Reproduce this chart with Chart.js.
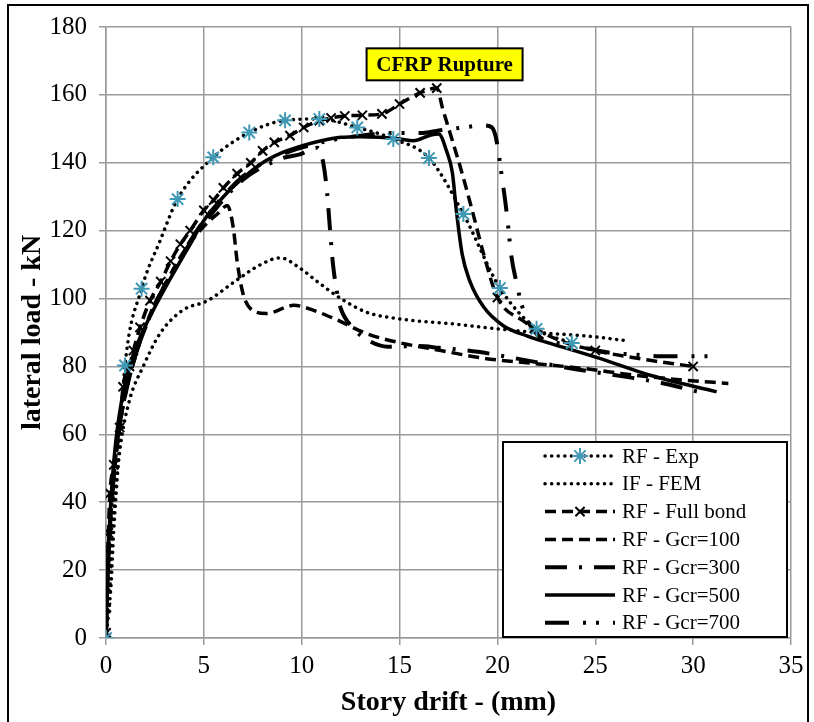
<!DOCTYPE html>
<html>
<head>
<meta charset="utf-8">
<script src="https://cdn.jsdelivr.net/npm/chart.js@4/dist/chart.umd.min.js"></script>
<style>
  html, body { margin: 0; padding: 0; background: #fff; }
  #wrap { width: 814px; height: 722px; }
</style>
</head>
<body>
<div id="wrap"><canvas id="drift" width="814" height="722"></canvas></div>
<script>
// story drift (mm) / lateral load (kN) pairs for each series
const expDrift  = [0, 0.25, 0.4, 0.56, 0.75, 0.97, 1.82, 2.76, 3.66, 5.48, 7.32, 9.15, 10.9, 12.84, 14.68, 16.5, 18.26, 20.13, 22.0, 23.8];
const expLoad   = [0, 15, 32, 46, 62, 80.3, 102.9, 117, 129.3, 141.6, 148.9, 152.5, 152.9, 150.4, 147, 141.4, 124.9, 103.1, 91.1, 86.9];
const expMarked = [1, 0, 0, 0, 0, 1, 1, 0, 1, 1, 1, 1, 1, 1, 1, 1, 1, 1, 1, 1];

const ifDrift = [0, 0.3, 0.7, 1.2, 1.9, 2.76, 3.9, 5.2, 6.5, 7.9, 8.9, 9.9, 10.8, 12.0, 13.3, 15.0, 17.6, 19.8, 22.0, 24.5, 26.6];
const ifLoad  = [0, 30, 55, 70, 80, 89.7, 96.5, 99.4, 104.7, 110, 112, 109, 105, 100, 96, 94, 92.6, 91.2, 90, 89, 87.6];

const fullDrift  = [0, 0.01, 0.02, 0.04, 0.07, 0.12, 0.2, 0.4, 0.7, 0.87, 1.2, 1.4, 1.74, 2.25, 2.8, 3.3, 3.8, 4.3, 5.0, 5.5, 6.0, 6.7, 7.4, 8.0, 8.6, 9.4, 10.1, 10.9, 11.5, 12.2, 13.1, 14.1, 15.0, 16.05, 16.9, 17.2, 17.7, 18.2, 18.8, 19.3, 20.0, 21.3, 23.2, 25.0, 27.8, 30.0];
const fullLoad   = [0, 1.5, 9, 15, 22, 31, 42.6, 51, 62, 74, 80, 84.7, 91.5, 99.4, 105, 111, 116, 120, 126, 129, 132.6, 136.8, 140, 143.5, 146, 148, 150.4, 152.4, 153.2, 153.8, 154, 154.4, 157.3, 160.6, 162, 156, 146.5, 136.8, 124, 113, 100.3, 93.5, 87.6, 84.7, 81.8, 80];
const fullMarked = [1, 1, 1, 1, 1, 1, 1, 1, 1, 1, 1, 1, 1, 1, 1, 1, 1, 1, 1, 1, 1, 1, 1, 1, 1, 1, 1, 1, 1, 1, 1, 1, 1, 1, 1, 0, 0, 0, 0, 0, 1, 0, 0, 1, 0, 1];

const g100Drift = [0, 0.1, 0.3, 0.6, 1.0, 1.5, 2.3, 3.0, 4.0, 4.95, 5.7, 6.2, 6.5, 6.7, 7.0, 7.5, 8.2, 9.6, 10.1, 11.7, 13.3, 15.0, 17.1, 19.3, 21.8, 24.4, 26.9, 29.5, 31.8];
const g100Load  = [0, 20, 40, 58, 72, 83, 96, 104, 114, 121, 125, 127.4, 121, 111, 101.5, 96.5, 95.6, 98, 97.5, 94, 89.7, 87, 84.7, 82.4, 80.9, 79.4, 77.5, 76, 75];

const g300Drift = [0, 0.1, 0.3, 0.6, 1.0, 1.6, 2.5, 3.5, 5.0, 7.0, 9.0, 9.9, 10.8, 11.1, 11.3, 11.45, 11.6, 11.8, 12.0, 12.6, 13.3, 14.4, 16.0, 17.0, 19.0, 21.0, 24.0, 26.5, 28.5, 30.2];
const g300Load  = [0, 20, 41, 59, 72, 85, 98, 109, 122, 135, 141.3, 142.5, 144.4, 140, 131, 120, 110, 102, 97, 91.5, 88, 85.8, 86, 85.5, 84.3, 82.3, 79.2, 77, 75, 72.6];

const g500Drift = [0, 0.05, 0.15, 0.3, 0.5, 0.8, 1.2, 1.7, 2.5, 3.3, 4.2, 5.0, 6.0, 7.0, 8.0, 9.0, 10.0, 11.0, 12.0, 13.0, 14.0, 15.0, 15.7, 16.6, 17.0, 17.4, 17.7, 17.9, 18.2, 18.6, 19.3, 20.3, 21.5, 22.7, 25.1, 27.8, 31.2];
const g500Load  = [0, 15, 30, 45, 58, 70, 80, 88, 97.5, 106, 115, 123, 130, 135.5, 140, 143, 145, 146.5, 147.5, 147.7, 147.5, 147, 146.5, 148.2, 148.5, 143.5, 137, 126, 113, 105, 97.5, 92, 89, 86.8, 82.6, 77.4, 72.5];

const g700Drift = [0, 0.1, 0.3, 0.6, 1.0, 1.6, 2.5, 3.5, 5.0, 7.0, 9.0, 11.0, 13.0, 15.0, 16.2, 17.0, 18.4, 19.2, 19.7, 19.9, 20.0, 20.2, 20.5, 20.7, 21.0, 21.2, 21.5, 22.2, 23.0, 24.0, 25.8, 27.0, 28.3, 29.7, 31.3];
const g700Load  = [0, 20, 41, 59, 72, 85, 98, 109, 123, 136, 142.5, 146, 148, 148.8, 148.8, 149.5, 150.5, 151, 150.5, 148, 145, 137, 124, 113, 104, 99, 94, 88.5, 87, 86, 84, 83.5, 83, 83, 83];

const seriesNames = ['RF - Exp', 'IF - FEM', 'RF - Full bond', 'RF - Gcr=100', 'RF - Gcr=300', 'RF - Gcr=500', 'RF - Gcr=700'];
const rupture = { text: 'CFRP Rupture', x: 17.3, y: 169 };

const SERIF = "'Liberation Serif', 'Times New Roman', serif";
const EXP_BLUE = '#3f98b4';

function pts(xs, ys) {
  return xs.map((x, i) => ({ x: x, y: ys[i] }));
}

function marks(flags, r) {
  return flags.map(f => (f ? r : 0));
}

const datasets = [
  {
    label: seriesNames[0], data: pts(expDrift, expLoad),
    borderColor: '#000', borderWidth: 3.5, borderDash: [0.1, 6.5], borderCapStyle: 'round',
    pointStyle: 'star', pointRadius: marks(expMarked, 8), pointBorderColor: EXP_BLUE,
    pointBackgroundColor: EXP_BLUE, pointBorderWidth: 2, order: 0
  },
  {
    label: seriesNames[1], data: pts(ifDrift, ifLoad),
    borderColor: '#000', borderWidth: 3.5, borderDash: [0.1, 6.5], borderCapStyle: 'round',
    pointRadius: 0, order: 6
  },
  {
    label: seriesNames[2], data: pts(fullDrift, fullLoad),
    borderColor: '#000', borderWidth: 3.5, borderDash: [11, 6],
    pointStyle: 'crossRot', pointRadius: marks(fullMarked, 6.5), pointBorderColor: '#000',
    pointBorderWidth: 2, order: 1
  },
  {
    label: seriesNames[3], data: pts(g100Drift, g100Load),
    borderColor: '#000', borderWidth: 3.5, borderDash: [11, 6],
    pointRadius: 0, order: 5
  },
  {
    label: seriesNames[4], data: pts(g300Drift, g300Load),
    borderColor: '#000', borderWidth: 4, borderDash: [22, 12, 3, 12],
    pointRadius: 0, order: 4
  },
  {
    label: seriesNames[5], data: pts(g500Drift, g500Load),
    borderColor: '#000', borderWidth: 3.5,
    pointRadius: 0, order: 2
  },
  {
    label: seriesNames[6], data: pts(g700Drift, g700Load),
    borderColor: '#000', borderWidth: 4, borderDash: [24, 14, 3, 10, 3, 14],
    pointRadius: 0, order: 3
  }
];

// white page with a thin frame round the whole figure
const framePlugin = {
  id: 'frame',
  beforeDraw(chart) {
    const ctx = chart.ctx;
    ctx.save();
    ctx.fillStyle = '#fff';
    ctx.fillRect(0, 0, chart.width, chart.height);
    ctx.strokeStyle = '#000';
    ctx.lineWidth = 2;
    ctx.strokeRect(8, 5, 800, 740);
    ctx.restore();
  }
};

// yellow "CFRP Rupture" tag, placed in data units
const rupturePlugin = {
  id: 'rupture',
  afterDatasetsDraw(chart) {
    const ctx = chart.ctx;
    const cx = chart.scales.x.getPixelForValue(rupture.x);
    const cy = chart.scales.y.getPixelForValue(rupture.y);
    const w = 156, h = 32;
    ctx.save();
    ctx.fillStyle = '#ffff00';
    ctx.fillRect(cx - w / 2, cy - h / 2, w, h);
    ctx.strokeStyle = '#000';
    ctx.lineWidth = 2;
    ctx.strokeRect(cx - w / 2, cy - h / 2, w, h);
    ctx.fillStyle = '#000';
    ctx.font = 'bold 21px ' + SERIF;
    ctx.textAlign = 'center';
    ctx.textBaseline = 'middle';
    ctx.fillText(rupture.text, cx, cy + 1);
    ctx.restore();
  }
};

// boxed legend in the lower right, each row a short sample of the line
const legendPlugin = {
  id: 'lineLegend',
  afterDraw(chart) {
    const ctx = chart.ctx;
    const area = chart.chartArea;
    const boxL = area.right - 288, boxR = area.right - 4;
    const boxT = area.bottom - 196, boxB = area.bottom - 1;
    ctx.save();
    ctx.fillStyle = '#fff';
    ctx.fillRect(boxL, boxT, boxR - boxL, boxB - boxT);
    ctx.strokeStyle = '#000';
    ctx.lineWidth = 2;
    ctx.strokeRect(boxL, boxT, boxR - boxL, boxB - boxT);

    const x0 = boxL + 42, x1 = boxL + 112;
    ctx.font = '21px ' + SERIF;
    ctx.textBaseline = 'middle';
    chart.data.datasets.forEach((ds, i) => {
      const y = boxT + 14 + i * 27.8;
      ctx.save();
      ctx.strokeStyle = ds.borderColor;
      ctx.lineWidth = ds.borderWidth;
      ctx.lineCap = ds.borderCapStyle || 'butt';
      ctx.setLineDash(ds.borderDash || []);
      ctx.beginPath();
      ctx.moveTo(x0, y);
      ctx.lineTo(x1, y);
      ctx.stroke();
      ctx.restore();
      if (ds.pointStyle) {
        ctx.save();
        ctx.strokeStyle = ds.pointBorderColor;
        ctx.fillStyle = ds.pointBackgroundColor || ds.pointBorderColor;
        ctx.lineWidth = ds.pointBorderWidth;
        Chart.helpers.drawPoint(ctx, {
          pointStyle: ds.pointStyle,
          radius: ds.pointStyle === 'star' ? 8 : 6.5,
          rotation: 0,
          borderWidth: ds.pointBorderWidth
        }, (x0 + x1) / 2, y);
        ctx.restore();
      }
      ctx.fillStyle = '#000';
      ctx.fillText(ds.label, x1 + 7, y + 1);
    });
    ctx.restore();
  }
};

new Chart(document.getElementById('drift'), {
  type: 'line',
  data: { datasets: datasets },
  options: {
    responsive: false,
    animation: false,
    devicePixelRatio: 1,
    layout: { padding: { left: 0, right: 23, top: 26, bottom: 0 } },
    elements: {
      line: { cubicInterpolationMode: 'monotone', fill: false }
    },
    plugins: {
      legend: { display: false },
      tooltip: { enabled: false }
    },
    scales: {
      x: {
        type: 'linear', min: 0, max: 35,
        afterFit(scale) { scale.height = 84; },
        ticks: { stepSize: 5, color: '#000', font: { family: SERIF, size: 25 }, padding: 6 },
        grid: { color: '#999', lineWidth: 1.5, tickLength: 7 },
        border: { color: '#999', width: 1.5 },
        title: {
          display: true, text: 'Story drift - (mm)', color: '#000',
          font: { family: SERIF, size: 28, weight: 'bold' }, padding: { top: 0, bottom: 2 }
        }
      },
      y: {
        type: 'linear', min: 0, max: 180,
        afterFit(scale) { scale.width = 106; },
        ticks: { stepSize: 20, color: '#000', font: { family: SERIF, size: 25 }, padding: 12 },
        grid: { color: '#999', lineWidth: 1.5, tickLength: 7 },
        border: { color: '#999', width: 1.5 },
        title: {
          display: true, text: 'lateral load - kN', color: '#000',
          font: { family: SERIF, size: 28, weight: 'bold' }, padding: { top: 16, bottom: 0 }
        }
      }
    }
  },
  plugins: [framePlugin, rupturePlugin, legendPlugin]
});
</script>
</body>
</html>
